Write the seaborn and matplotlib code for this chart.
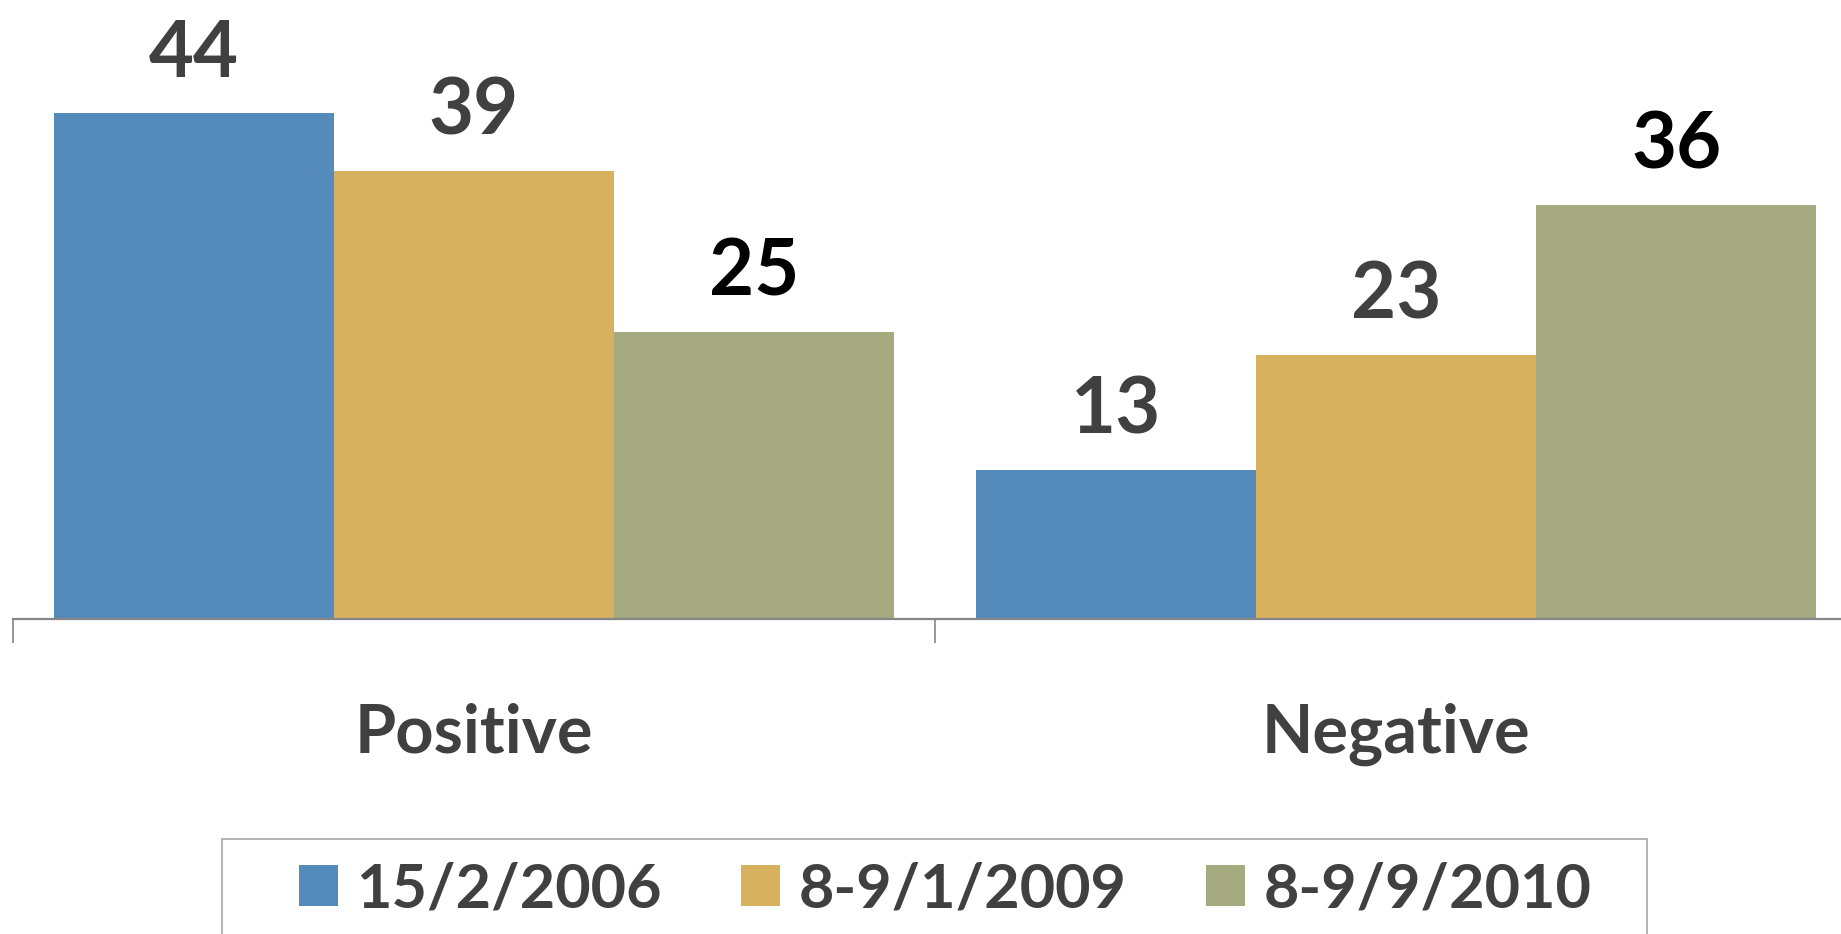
import pandas as pd
import matplotlib
matplotlib.use("Agg")
import matplotlib.pyplot as plt
from matplotlib.patches import Rectangle
import seaborn as sns

# values
categories = ["Positive", "Negative"]
dates = ["15/2/2006", "8-9/1/2009", "8-9/9/2010"]
positive = [44, 39, 25]
negative = [13, 23, 36]
colors = ["#558BBA", "#D7B15E", "#A5AA80"]
label_colors = ["#404040", "#404040", "#000000"]

data = pd.DataFrame({
    "category": [c for c in categories for _ in dates],
    "date": dates * 2,
    "value": positive + negative,
})

sns.set_style("white")
plt.rcParams["font.family"] = ["Lato", "DejaVu Sans"]

fig = plt.figure(figsize=(18.41, 9.34), dpi=100)
ax = fig.add_axes([13 / 1841, 1 - 619 / 934, 1 - 13 / 1841, 619 / 934])

sns.barplot(data=data, x="category", y="value", hue="date", order=categories,
            hue_order=dates, palette=colors, width=0.912, gap=0,
            saturation=1, edgecolor="none", linewidth=0, ax=ax)

for cont, col in zip(ax.containers, label_colors):
    ax.bar_label(cont, fontsize=56, fontweight="bold", color=col, padding=16)

for s in ["left", "top", "right"]:
    ax.spines[s].set_visible(False)
ax.spines["bottom"].set_color("#868686")
ax.spines["bottom"].set_linewidth(1.6)
ax.set_yticks([])
ax.set_xlabel("")
ax.set_ylabel("")
# category boundary ticks
ax.set_xticks([-0.5, 0.5], minor=True)
ax.tick_params(axis="x", which="minor", bottom=True, length=17, width=1.2, color="#868686")
ax.tick_params(axis="x", which="major", bottom=False, length=0, pad=60)
for t in ax.get_xticklabels():
    t.set_fontsize(48)
    t.set_fontweight("bold")
    t.set_color("#404040")

ax.set_xlim(-0.5, -0.5 + 1828 / 922)
ax.set_ylim(0, 619 / 11.5)

handles, labels = ax.get_legend_handles_labels()
ax.get_legend().remove()
leg = fig.legend(handles, labels, loc="center", bbox_to_anchor=(945 / 1841, 1 - 889 / 934),
                 ncol=3, frameon=False, prop={"weight": "bold", "size": 44},
                 handlelength=0.64, handleheight=0.64, handletextpad=0.3,
                 columnspacing=1.3, borderpad=0, borderaxespad=0)
for t in leg.get_texts():
    t.set_color("#404040")
# legend box, its bottom runs past the image edge as in the original
fig.patches.append(Rectangle((222 / 1841, -0.1), (1647 - 222) / 1841, 0.1 + 1 - 839 / 934,
                             transform=fig.transFigure, fill=False,
                             edgecolor="#A6A6A6", linewidth=1.2))

fig.savefig("out.png", dpi=100)
